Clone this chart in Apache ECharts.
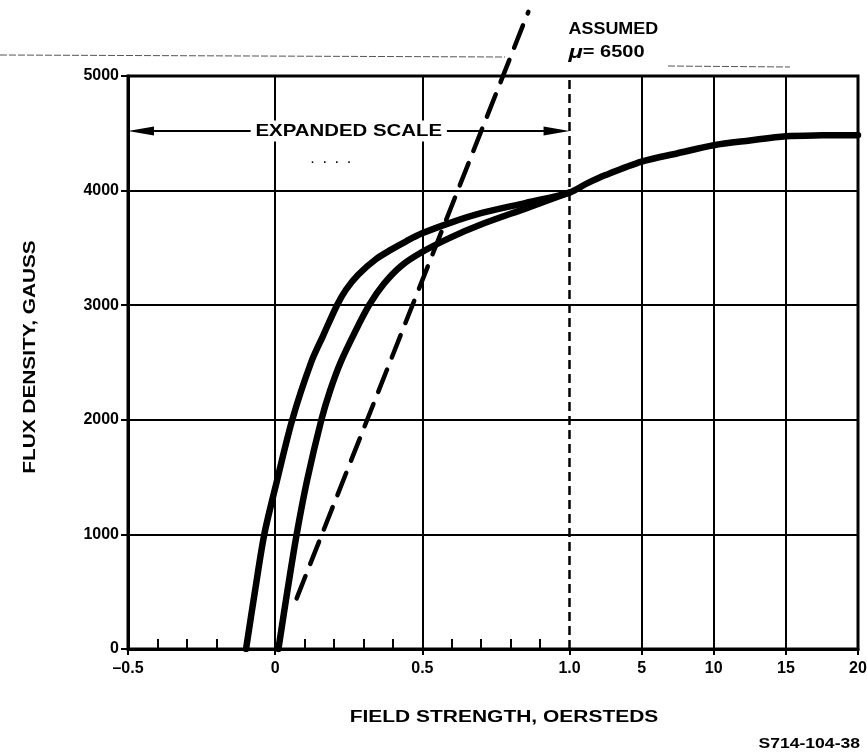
<!DOCTYPE html>
<html>
<head>
<meta charset="utf-8">
<script src="https://cdn.jsdelivr.net/npm/echarts@6/dist/echarts.min.js"></script>
<style>
  html, body { margin: 0; padding: 0; background: #ffffff; }
  #chart { width: 867px; height: 753px; }
</style>
</head>
<body>
<div id="chart"></div>
<script>
// ---- axis definitions -------------------------------------------------
// Field strength (oersteds): expanded scale from -0.5 to 1.0, compressed beyond
const xTickValues = [-0.5, 0, 0.5, 1.0, 5, 10, 15, 20];
const xTickLabels = ['\u20130.5', '0', '0.5', '1.0', '5', '10', '15', '20'];
const xMinorTicks = [-0.4, -0.3, -0.2, -0.1, 0.1, 0.2, 0.3, 0.4, 0.6, 0.7, 0.8, 0.9];
const xGridSolid = [0, 0.5, 5, 10, 15];
const xGridDashed = [1.0];
const yTicks = [0, 1000, 2000, 3000, 4000, 5000];

// ---- B-H curves -------------------------------------------------------
// upper (left) branch
const branchAH = [-0.099, -0.068, -0.037, 0, 0.058, 0.122, 0.163, 0.210, 0.241, 0.282, 0.343, 0.394, 0.445,
                  0.499, 0.597, 0.699, 0.852, 1.0,
                  2, 3, 5, 7.5, 10, 12.5, 15, 17.5, 20];
const branchAB = [0, 515, 1000, 1404, 2000, 2500, 2735, 3000, 3137, 3266, 3403, 3485, 3558,
                  3627, 3721, 3803, 3893, 3983,
                  4065, 4136, 4253, 4326, 4396, 4437, 4474, 4482, 4484];
// lower (right) branch
const branchBH = [0.011, 0.042, 0.073, 0.108, 0.157, 0.186, 0.222, 0.268, 0.319, 0.370, 0.428,
                  0.499, 0.597, 0.699, 0.852, 1.0];
const branchBB = [0, 515, 1000, 1467, 2000, 2250, 2500, 2750, 3000, 3189, 3343,
                  3464, 3592, 3704, 3845, 3983];

// assumed permeability line, mu = 6500 gauss per oersted
const mu = 6500;
const muLineH = [0.073, 0.86];
const muLineB = [442, 5560];

// flux level of the "expanded scale" arrow
const expandedArrowB = 4520;
const expandedRange = [-0.5, 1.0];

// ---- piecewise field-strength scale ---------------------------------
const EXP_UNIT = 2;        // axis units per oersted on the expanded part
const COMP_STEP = 0.49;    // axis units per gridline step on the compressed part
const compBreaks = [1, 5, 10, 15, 20];
function toAxis(h) {
  if (h <= 1) return (h + 0.5) * EXP_UNIT;
  for (let i = 1; i < compBreaks.length; i++) {
    if (h <= compBreaks[i]) {
      const a = compBreaks[i - 1], b = compBreaks[i];
      return 3 + (i - 1 + (h - a) / (b - a)) * COMP_STEP;
    }
  }
  return 3 + (compBreaks.length - 1) * COMP_STEP;
}
const X_MIN = toAxis(-0.5);
const X_MAX = toAxis(20);
const xTickPos = xTickValues.map(toAxis);
function xLabel(v) {
  for (let i = 0; i < xTickPos.length; i++) {
    if (Math.abs(xTickPos[i] - v) < 1e-6) return xTickLabels[i];
  }
  return '';
}
const zip = (hs, bs) => hs.map((h, i) => [toAxis(h), bs[i]]);

const FONT = 'Liberation Sans, Arial, Helvetica, sans-serif';
const chart = echarts.init(document.getElementById('chart'), null, { renderer: 'canvas' });

// arrowheads sit inside the expanded range: pull the ends in by half a head
const HEAD_LEN = 26;
const headShift = (HEAD_LEN / 2) * (X_MAX - X_MIN) / 730;

const option = {
  backgroundColor: '#ffffff',
  animation: false,
  grid: {
    left: 128, top: 76, width: 730, height: 573,
    containLabel: false, outerBoundsMode: 'none',
    show: true, borderColor: '#000', borderWidth: 3, backgroundColor: 'transparent'
  },
  xAxis: [{
    type: 'value', min: X_MIN, max: X_MAX,
    axisLine: { show: true, onZero: false, lineStyle: { color: '#000', width: 3 } },
    axisTick: { show: true, customValues: xTickPos, length: 6, lineStyle: { color: '#000', width: 2 } },
    axisLabel: {
      show: true, customValues: xTickPos, formatter: xLabel, margin: 12,
      color: '#000', fontSize: 16, fontWeight: 'bold', fontFamily: FONT,
      showMinLabel: true, showMaxLabel: true
    },
    splitLine: { show: false }
  }, {
    // short upward ticks every 0.1 oersted on the expanded part
    type: 'value', min: X_MIN, max: X_MAX, position: 'bottom',
    axisLine: { show: false },
    axisTick: { show: true, inside: true, customValues: xMinorTicks.map(toAxis), length: 10, lineStyle: { color: '#000', width: 2 } },
    axisLabel: { show: false },
    splitLine: { show: false }
  }],
  yAxis: {
    type: 'value', min: yTicks[0], max: yTicks[yTicks.length - 1], interval: 1000,
    axisLine: { show: true, lineStyle: { color: '#000', width: 3 } },
    axisTick: { show: true, length: 7, lineStyle: { color: '#000', width: 2 } },
    axisLabel: {
      color: '#000', fontSize: 16, fontWeight: 'bold', fontFamily: FONT, margin: 9,
      formatter: v => String(v)
    },
    splitLine: { show: true, lineStyle: { color: '#000', width: 2 } }
  },
  series: [
    {
      // vertical gridlines
      type: 'line', data: [], silent: true, z: 1,
      markLine: {
        silent: true, symbol: ['none', 'none'], animation: false,
        label: { show: false },
        lineStyle: { color: '#000', width: 2, type: 'solid' },
        data: xGridSolid.map(h => ({ xAxis: toAxis(h) })).concat(
          xGridDashed.map(h => ({ xAxis: toAxis(h), lineStyle: { color: '#000', width: 2.5, type: [9, 5] } })))
      }
    },
    {
      name: 'upper branch', type: 'line', data: zip(branchAH, branchAB),
      symbol: 'none', smooth: 0.3, z: 5,
      lineStyle: { color: '#000', width: 6.5, cap: 'round', join: 'round' }
    },
    {
      name: 'lower branch', type: 'line', data: zip(branchBH, branchBB),
      symbol: 'none', smooth: 0.3, z: 5,
      lineStyle: { color: '#000', width: 6.5, cap: 'round', join: 'round' }
    },
    {
      name: 'assumed mu', type: 'line', data: zip(muLineH, muLineB),
      symbol: 'none', clip: false, z: 4,
      lineStyle: { color: '#000', width: 4.5, type: [24, 13], cap: 'round' }
    },
    {
      // "expanded scale" double arrow
      type: 'line', data: [], silent: true, z: 6,
      markLine: {
        silent: true, animation: false,
        symbol: ['triangle', 'triangle'], symbolSize: [9, HEAD_LEN],
        label: { show: false },
        lineStyle: { color: '#000', width: 2, type: 'solid' },
        data: [[
          { coord: [toAxis(expandedRange[0]) + headShift, expandedArrowB] },
          { coord: [toAxis(expandedRange[1]) - headShift, expandedArrowB] }
        ]]
      }
    }
  ]
};
chart.setOption(option);

// ---- text annotations -------------------------------------------------
const arrowMid = chart.convertToPixel({ gridIndex: 0 },
  [(toAxis(expandedRange[0]) + toAxis(expandedRange[1])) / 2, expandedArrowB]);
const oneOe = chart.convertToPixel({ gridIndex: 0 }, [toAxis(1.0), 5000]);

function label(text, x, y, opts) {
  return Object.assign({
    type: 'text', x: x, y: y, z: 20,
    style: Object.assign({
      text: text, fill: '#000', font: 'bold 16px ' + FONT,
      align: 'center', verticalAlign: 'middle'
    }, opts.style || {})
  }, opts.el || {});
}

chart.setOption({
  graphic: [
    label('EXPANDED SCALE', arrowMid[0], arrowMid[1], {
      el: { scaleX: 1.2 },
      style: { font: 'bold 17px ' + FONT, backgroundColor: '#fff', padding: [2, 4] }
    }),
    label('.   .   .   .', arrowMid[0] - 18, arrowMid[1] + 29, { style: { font: 'bold 11px ' + FONT } }),
    label('ASSUMED', oneOe[0] - 1, 30, { el: { scaleX: 1.12 }, style: { align: 'left', font: 'bold 16px ' + FONT } }),
    {
      type: 'text', x: oneOe[0] - 1, y: 53, z: 20, scaleX: 1.25,
      style: {
        text: '{m|\u03bc}= 6500', fill: '#000', font: 'bold 16px ' + FONT,
        align: 'left', verticalAlign: 'middle',
        rich: { m: { fontStyle: 'italic', fontWeight: 'bold', fontSize: 19, fontFamily: FONT } }
      }
    },
    label('FLUX DENSITY, GAUSS', 31, 357, { el: { rotation: Math.PI / 2, scaleX: 1.3 } }),
    label('FIELD STRENGTH, OERSTEDS', 504, 718, { el: { scaleX: 1.31 } }),
    label('S714-104-38', 860, 744, { el: { scaleX: 1.17 }, style: { align: 'right', font: 'bold 15px ' + FONT } }),
    // faint rule lines printed across the top of the sheet
    { type: 'line', z: 1, shape: { x1: 0, y1: 55, x2: 505, y2: 57 }, style: { stroke: '#555', lineWidth: 1, lineDash: [7, 2] } },
    { type: 'line', z: 1, shape: { x1: 668, y1: 66, x2: 790, y2: 67 }, style: { stroke: '#555', lineWidth: 1, lineDash: [7, 2] } }
  ]
});
</script>
</body>
</html>
